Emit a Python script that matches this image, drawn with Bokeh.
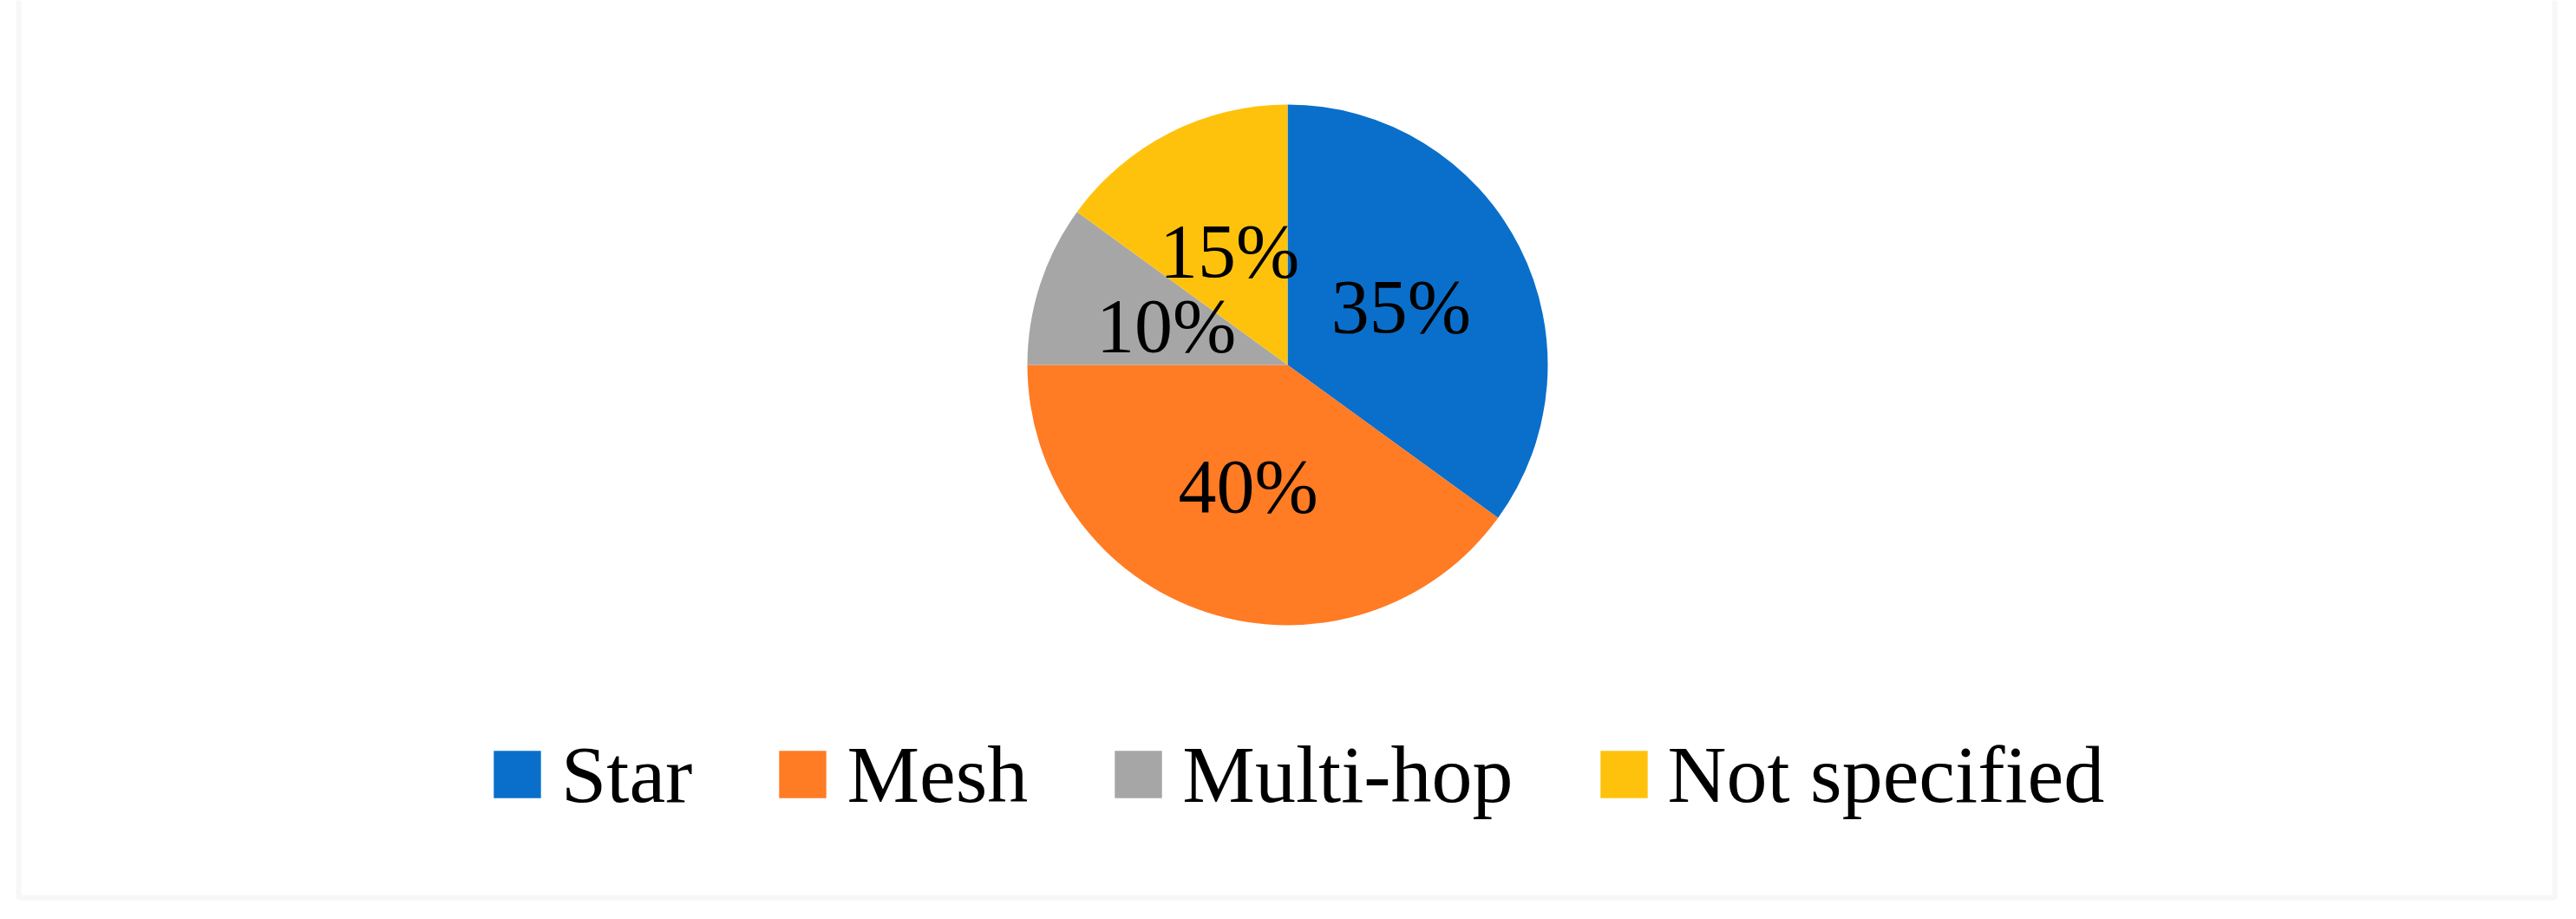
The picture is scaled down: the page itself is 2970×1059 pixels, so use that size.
import math
from bokeh.plotting import figure
from bokeh.models import Range1d, Legend, LegendItem, BoxAnnotation, ColumnDataSource
from bokeh.core.properties import value
from bokeh.embed import file_html
from bokeh.resources import INLINE

# ---- data ----
categories = ["Star", "Mesh", "Multi-hop", "Not specified"]
shares = [35, 40, 10, 15]
labels = ["35%", "40%", "10%", "15%"]
colors = ["#0a6fcb", "#ff7b24", "#a6a6a6", "#ffc20c"]

W, H = 2954, 1043
p = figure(width=W, height=H, output_backend="svg", toolbar_location=None,
           x_range=Range1d(0, W), y_range=Range1d(1059 - H, 1059),
           min_border=0, outline_line_color=None)
p.axis.visible = False
p.grid.visible = False
p.background_fill_color = "white"

# frame border (image coordinate y -> 1059 - Y)
p.add_layout(BoxAnnotation(left=21, right=2945, bottom=1059 - 1034, top=1200,
                           fill_alpha=0, line_color="#dde5eb", line_width=6))

cx, cy, R = 1484, 1059 - 420, 300
total = float(sum(shares))
starts, ends, mids = [], [], []
acc = 0.0
for s in shares:
    a0 = math.pi / 2 - 2 * math.pi * acc / total
    acc += s
    a1 = math.pi / 2 - 2 * math.pi * acc / total
    starts.append(a0)
    ends.append(a1)
    mids.append((a0 + a1) / 2)

src = ColumnDataSource(dict(cat=categories, start=starts, end=ends, color=colors,
                            lx=[cx + 0.49 * R * math.cos(m) for m in mids],
                            ly=[cy + 0.49 * R * math.sin(m) for m in mids],
                            lab=labels))

renderers = []
for i in range(len(categories)):
    r = p.wedge(x=cx, y=cy, radius=R, start_angle=starts[i], end_angle=ends[i],
                direction="clock", fill_color=colors[i], line_color=None)
    renderers.append(r)

p.text(x="lx", y="ly", text="lab", source=src, text_align="center",
       text_baseline="middle", text_font=value("Liberation Serif"),
       text_font_size="88px", text_color="black")

legend = Legend(items=[LegendItem(label=c, renderers=[r]) for c, r in zip(categories, renderers)],
                orientation="horizontal", location=(562, 97),
                glyph_width=68, glyph_height=68, label_standoff=17, spacing=93,
                padding=0, margin=0, border_line_alpha=0, background_fill_alpha=0,
                label_text_font="Liberation Serif", label_text_font_size="94px",
                label_text_color="black", label_height=68)
p.add_layout(legend, "center")

open("out.html", "w").write(file_html(p, INLINE))
